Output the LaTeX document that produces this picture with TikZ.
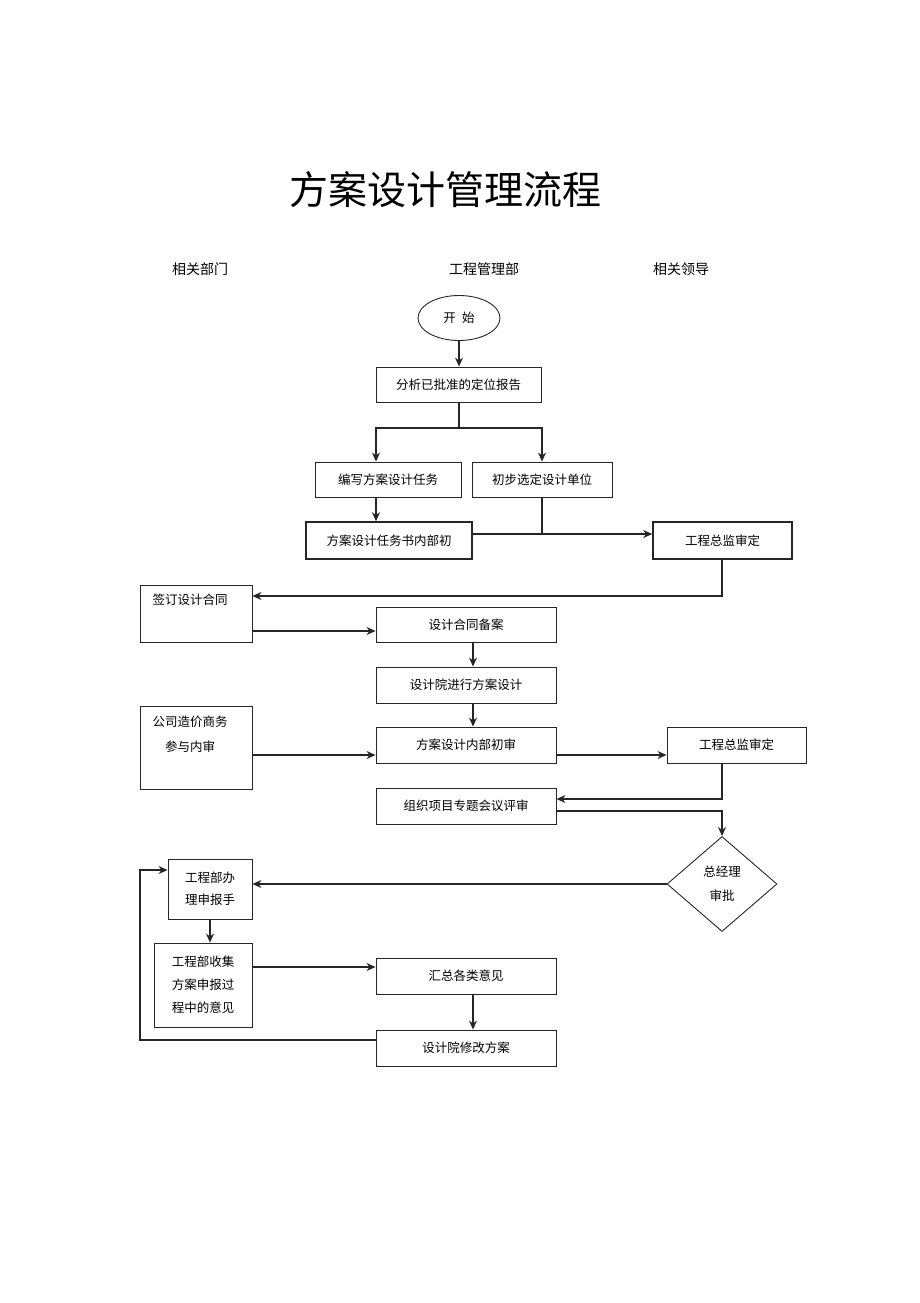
\documentclass[tikz,border=0pt]{standalone}
\usepackage{fontspec}
\setmainfont{Noto Sans CJK SC}
\usetikzlibrary{shapes.geometric,arrows.meta}

\tikzset{
  box/.style={draw=black!85, line width=0.9pt, inner sep=0pt, align=center,
    font=\fontsize{12.5}{23}\selectfont},
  boldbox/.style={box, line width=1.6pt},
  txt/.style={inner sep=0pt, align=center, font=\fontsize{12.5}{25}\selectfont},
  head/.style={inner sep=0pt, font=\fontsize{14}{16}\selectfont},
  link/.style={draw=black!85, line width=1.2pt, -{Stealth[length=9pt,width=8pt]}},
  line/.style={draw=black!85, line width=1.2pt},
}

\begin{document}
\begin{tikzpicture}[x=1pt, y=-1pt]
    \useasboundingbox (0,0) rectangle (920,1303);
    % Title and lanes
    \node[inner sep=0pt, font=\fontsize{39}{45}\selectfont] (title) at (445,190) {方案设计管理流程};
    \node[head] (lanedept) at (200,269) {相关部门};
    \node[head] (laneeng) at (484,269) {工程管理部};
    \node[head] (lanelead) at (681,269) {相关领导};

    % Define nodes
    \node[draw=black!85, line width=0.9pt, ellipse, minimum width=82, minimum height=45,
      font=\fontsize{12.5}{15}\selectfont] (start) at (459,318) {开\hspace{0.5em}始};
    \node[box, minimum width=165, minimum height=35] (analyze) at (458.5,384.5) {分析已批准的定位报告};
    \node[box, minimum width=146, minimum height=35] (write) at (388,479.5) {编写方案设计任务};
    \node[box, minimum width=140, minimum height=35] (select) at (542,479.5) {初步选定设计单位};
    \node[boldbox, minimum width=166, minimum height=37] (draft) at (389,540.5) {方案设计任务书内部初};
    \node[boldbox, minimum width=139, minimum height=37] (review1) at (722.5,540.5) {工程总监审定};
    \node[box, minimum width=112, minimum height=57] (sign) at (196,613.5) {};
    \node[txt] (signtxt) at (190,600) {签订设计合同};
    \node[box, minimum width=180, minimum height=35] (file) at (466,624.5) {设计合同备案};
    \node[box, minimum width=180, minimum height=36] (design) at (466,685) {设计院进行方案设计};
    \node[box, minimum width=112, minimum height=83] (cost) at (196,747.5) {};
    \node[txt] (costtxt) at (190,734.5) {公司造价商务\\参与内审};
    \node[box, minimum width=180, minimum height=36] (inner) at (466,745) {方案设计内部初审};
    \node[box, minimum width=139, minimum height=36] (review2) at (736.5,745) {工程总监审定};
    \node[box, minimum width=180, minimum height=36] (meeting) at (466,806) {组织项目专题会议评审};
    \node[box, diamond, aspect=1.16, minimum width=110, minimum height=95,
      font=\fontsize{12.5}{24}\selectfont] (approve) at (722,884) {总经理\\审批};
    \node[box, minimum width=84, minimum height=60, font=\fontsize{12.5}{22}\selectfont] (handle) at (210,889) {工程部办\\理申报手};
    \node[box, minimum width=98, minimum height=84] (collect) at (203,985) {工程部收集\\方案申报过\\程中的意见};
    \node[box, minimum width=180, minimum height=36] (summary) at (466,976) {汇总各类意见};
    \node[box, minimum width=180, minimum height=36] (revise) at (466,1048) {设计院修改方案};
    \coordinate (fork) at (459,428);
    \coordinate (join) at (542,534);
    \coordinate (loop) at (140,1040);

    % Draw arrows
    \draw[link] (start.south) -- (start.south |- analyze.north);
    \draw[line] (analyze.south -| fork) -- (fork);
    \draw[link] (fork) -| (write.north -| 376,0);
    \draw[link] (fork) -| (select.north);
    \draw[link] (write.south -| 376,0) -- (draft.north -| 376,0);
    \draw[link] (draft.east |- join) -- (review1.west |- join);
    \draw[line] (select.south) -- (join);
    \draw[link] (review1.south -| 722,0) |- (sign.east |- 0,596);
    \draw[link] (sign.east |- 0,631) -- (file.west |- 0,631);
    \draw[link] (file.south -| 473,0) -- (design.north -| 473,0);
    \draw[link] (design.south -| 473,0) -- (inner.north -| 473,0);
    \draw[link] (cost.east |- 0,755) -- (inner.west |- 0,755);
    \draw[link] (inner.east |- 0,755) -- (review2.west |- 0,755);
    \draw[link] (review2.south -| 722,0) |- (meeting.east |- 0,799);
    \draw[link] (meeting.east |- 0,811) -| (approve.north);
    \draw[link] (approve.west) -- (approve.west -| handle.east);
    \draw[link] (handle.south) -- (handle.south |- collect.north);
    \draw[link] (collect.east |- 0,967) -- (summary.west |- 0,967);
    \draw[link] (summary.south -| 473,0) -- (revise.north -| 473,0);
    \draw[link] (revise.west |- loop) -- (loop) |- (handle.west |- 0,870);
\end{tikzpicture}
\end{document}
